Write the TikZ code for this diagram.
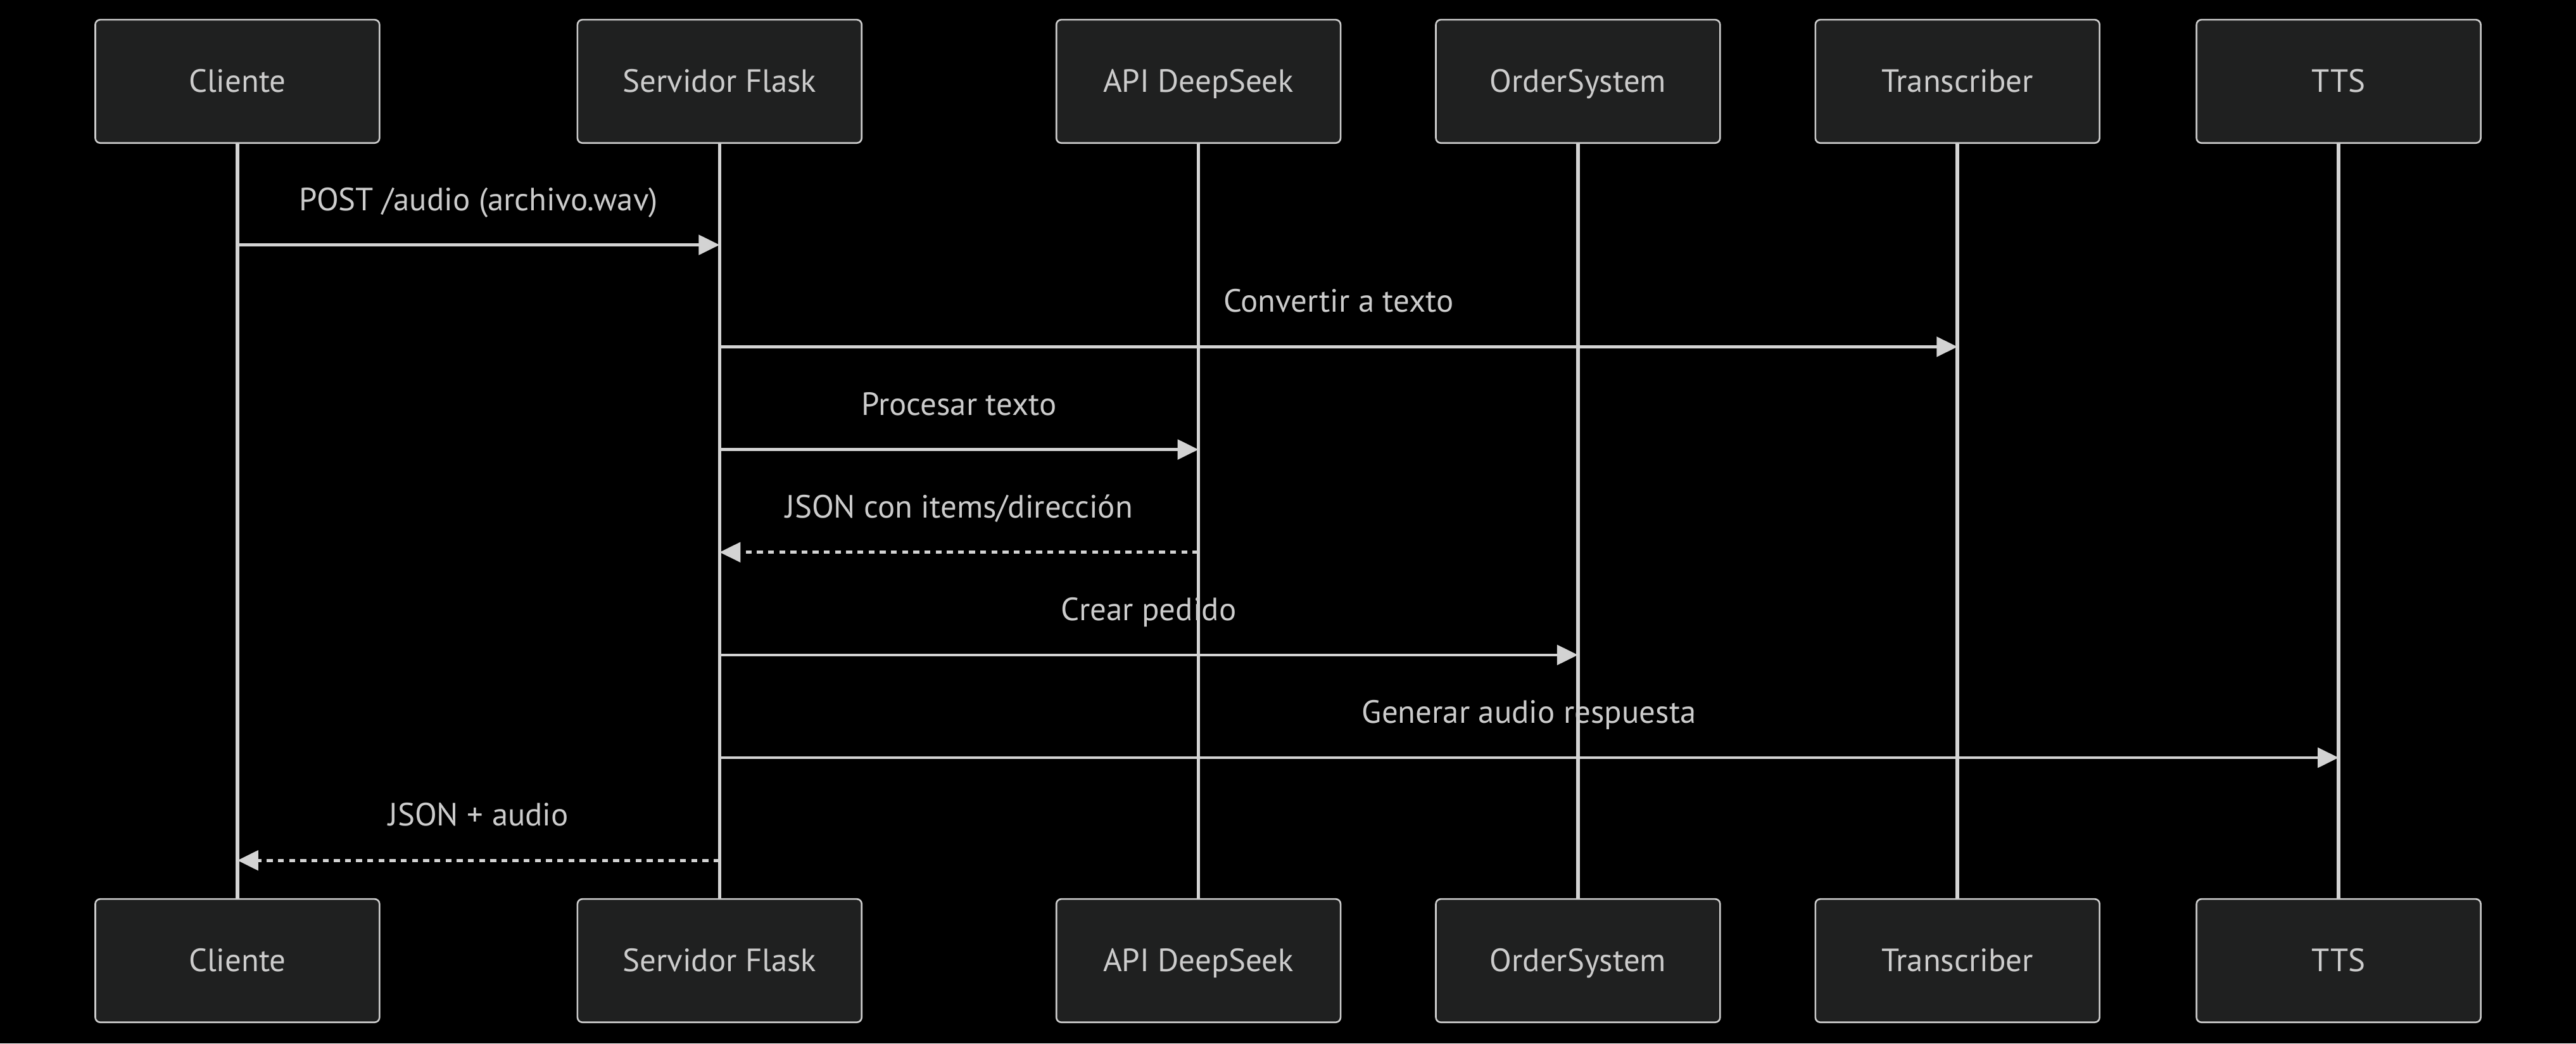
\documentclass[tikz,border=0pt]{standalone}
\usepackage{fontspec}
\setmainfont{PT Sans}
\usetikzlibrary{arrows.meta}
\definecolor{boxFill}{HTML}{1F2020}
\definecolor{boxLine}{HTML}{CCCCCC}
\definecolor{lineColor}{HTML}{D3D3D3}
\definecolor{labelText}{HTML}{CCCCCC}

\begin{document}
\begin{tikzpicture}[x = 1pt, y = -1pt, font = \fontsize{19.6}{23}\selectfont]
	\tikzstyle{actorStyle}=[shape = rectangle, rounded corners = 3pt, minimum width = 173pt, minimum height = 75pt, line width = 1pt, draw = boxLine, fill = boxFill, text = labelText]
	\tikzstyle{actorText}=[anchor = base, inner sep = 0pt, yshift = -6.5pt, text = labelText]
	\tikzstyle{lifeStyle}=[draw = lineColor, line width = 2.2pt]
	\tikzstyle{msgStyle}=[draw = lineColor, line width = 1.8pt, -{Triangle[length = 12.7pt, width = 12pt]}]
	\tikzstyle{replyStyle}=[msgStyle, dash pattern = on 3.6pt off 3.2pt]
	\tikzstyle{msgLabel}=[anchor = base, yshift = 21pt, inner sep = 0pt, text = labelText]
	\fill[black] (0,0) rectangle (1568,635);
	\useasboundingbox (0,0) rectangle (1568,635);
	\node[style = actorStyle] (a0) at (144.5,49.5) {};
	\node[style = actorStyle] (a1) at (438,49.5) {};
	\node[style = actorStyle] (a2) at (729.5,49.5) {};
	\node[style = actorStyle] (a3) at (960.5,49.5) {};
	\node[style = actorStyle] (a4) at (1191.5,49.5) {};
	\node[style = actorStyle] (a5) at (1423.5,49.5) {};
	\node[style = actorStyle] (b0) at (144.5,584.5) {};
	\node[style = actorStyle] (b1) at (438,584.5) {};
	\node[style = actorStyle] (b2) at (729.5,584.5) {};
	\node[style = actorStyle] (b3) at (960.5,584.5) {};
	\node[style = actorStyle] (b4) at (1191.5,584.5) {};
	\node[style = actorStyle] (b5) at (1423.5,584.5) {};
	\node[style = actorText] (ta0) at (a0) {Cliente};
	\node[style = actorText] (ta1) at (a1) {Servidor Flask};
	\node[style = actorText] (ta2) at (a2) {API DeepSeek};
	\node[style = actorText] (ta3) at (a3) {OrderSystem};
	\node[style = actorText] (ta4) at (a4) {Transcriber};
	\node[style = actorText] (ta5) at (a5) {TTS};
	\node[style = actorText] (tb0) at (b0) {Cliente};
	\node[style = actorText] (tb1) at (b1) {Servidor Flask};
	\node[style = actorText] (tb2) at (b2) {API DeepSeek};
	\node[style = actorText] (tb3) at (b3) {OrderSystem};
	\node[style = actorText] (tb4) at (b4) {Transcriber};
	\node[style = actorText] (tb5) at (b5) {TTS};
	\draw[style = lifeStyle] (a0) -- (b0);
	\draw[style = lifeStyle] (a1) -- (b1);
	\draw[style = lifeStyle] (a2) -- (b2);
	\draw[style = lifeStyle] (a3) -- (b3);
	\draw[style = lifeStyle] (a4) -- (b4);
	\draw[style = lifeStyle] (a5) -- (b5);
	\coordinate (r1) at (0,149);
	\coordinate (r2) at (0,211);
	\coordinate (r3) at (0,273.5);
	\coordinate (r4) at (0,336);
	\coordinate (r5) at (0,398.5);
	\coordinate (r6) at (0,461);
	\coordinate (r7) at (0,523.5);
	\draw[style = msgStyle] (a0 |- r1) -- node[msgLabel] {POST /audio (archivo.wav)} (a1 |- r1);
	\draw[style = msgStyle] (a1 |- r2) -- node[msgLabel] {Convertir a texto} (a4 |- r2);
	\draw[style = msgStyle] (a1 |- r3) -- node[msgLabel] {Procesar texto} (a2 |- r3);
	\draw[style = replyStyle] (a2 |- r4) -- node[msgLabel] {JSON con items/dirección} (a1 |- r4);
	\draw[style = msgStyle] (a1 |- r5) -- node[msgLabel] {Crear pedido} (a3 |- r5);
	\draw[style = msgStyle] (a1 |- r6) -- node[msgLabel] {Generar audio respuesta} (a5 |- r6);
	\draw[style = replyStyle] (a1 |- r7) -- node[msgLabel] {JSON + audio} (a0 |- r7);
	\end{tikzpicture}
\end{document}
